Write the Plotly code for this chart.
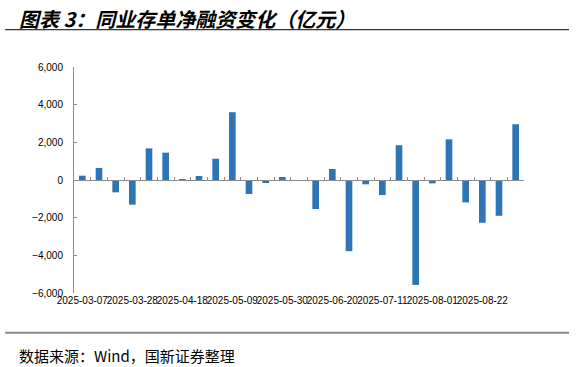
import plotly.graph_objects as go

dates = ["2025-03-07", "2025-03-14", "2025-03-21", "2025-03-28", "2025-04-04", "2025-04-11",
         "2025-04-18", "2025-04-25", "2025-05-02", "2025-05-09", "2025-05-16", "2025-05-23",
         "2025-05-30", "2025-06-06", "2025-06-13", "2025-06-20", "2025-06-27", "2025-07-04",
         "2025-07-11", "2025-07-18", "2025-07-25", "2025-08-01", "2025-08-08", "2025-08-15",
         "2025-08-22", "2025-08-29", "2025-09-05"]
net_financing = [230, 640, -655, -1310, 1680, 1450,
                 30, 210, 1130, 3600, -745, -160,
                 160, -40, -1540, 585, -3780, -230,
                 -800, 1845, -5570, -180, 2160, -1190,
                 -2270, -1900, 2960]
tick_labels = dates[::3]

title_text = "图表 3：同业存单净融资变化（亿元）"
source_text = "数据来源：Wind，国新证券整理"

bar_color = "#2E75B6"
axis_color = "#8C8C8C"
x_range = [-0.5, len(dates) - 0.5]

fig = go.Figure()
fig.add_trace(go.Bar(x=dates, y=net_financing, marker=dict(color=bar_color, line=dict(width=0)),
                     showlegend=False, hoverinfo="x+y"))
# invisible trace to populate the zero-line axis with the same categories
fig.add_trace(go.Scatter(x=dates, y=[0] * len(dates), xaxis="x2", mode="markers",
                         marker=dict(opacity=0, size=1), showlegend=False, hoverinfo="skip"))

fig.update_layout(
    width=578, height=367,
    margin=dict(l=74, r=54, t=67, b=74),
    paper_bgcolor="white", plot_bgcolor="white",
    bargap=0.6,
    font=dict(family="Liberation Sans, Arial, sans-serif", size=10, color="#000000"),
    xaxis=dict(type="category", categoryorder="array", categoryarray=dates,
               range=x_range, autorange=False,
               tickmode="array", tickvals=tick_labels, ticktext=tick_labels,
               showline=False, ticks="", showgrid=False, zeroline=False,
               tickangle=0, tickfont=dict(size=10, color="#000000")),
    xaxis2=dict(type="category", categoryorder="array", categoryarray=dates,
                range=x_range, autorange=False,
                overlaying="x", anchor="free", position=0.5,
                showline=True, linecolor=axis_color, linewidth=1,
                ticks="inside", tickson="boundaries", ticklen=3, tickcolor=axis_color,
                showticklabels=False, showgrid=False, zeroline=False),
    yaxis=dict(range=[-6000, 6000], dtick=2000, tickformat=",d",
               showline=True, linecolor=axis_color, linewidth=1,
               ticks="inside", ticklen=3, tickcolor=axis_color,
               ticklabelstandoff=8,
               showgrid=False, zeroline=False,
               tickfont=dict(size=10, color="#000000")),
    annotations=[
        dict(text=title_text, xref="paper", yref="paper", x=-0.12, y=1.2,
             xanchor="left", yanchor="middle", showarrow=False,
             font=dict(family="Noto Sans CJK SC", size=20, color="#000000",
                       style="italic", weight="bold"),
             xshift=-3, yshift=3),
        dict(text=source_text, xref="paper", yref="paper", x=-0.12, y=-0.27,
             xanchor="left", yanchor="middle", showarrow=False,
             font=dict(family="Noto Sans CJK SC", size=15, color="#000000"),
             xshift=-3, yshift=-1),
    ],
    shapes=[
        dict(type="line", xref="paper", yref="paper", x0=-0.153, x1=1.1, y0=1.165, y1=1.165,
             line=dict(color="#333333", width=1.2)),
        dict(type="line", xref="paper", yref="paper", x0=-0.153, x1=1.1, y0=-0.176, y1=-0.176,
             line=dict(color="#888888", width=2)),
    ],
)

fig.write_html("out.html")
